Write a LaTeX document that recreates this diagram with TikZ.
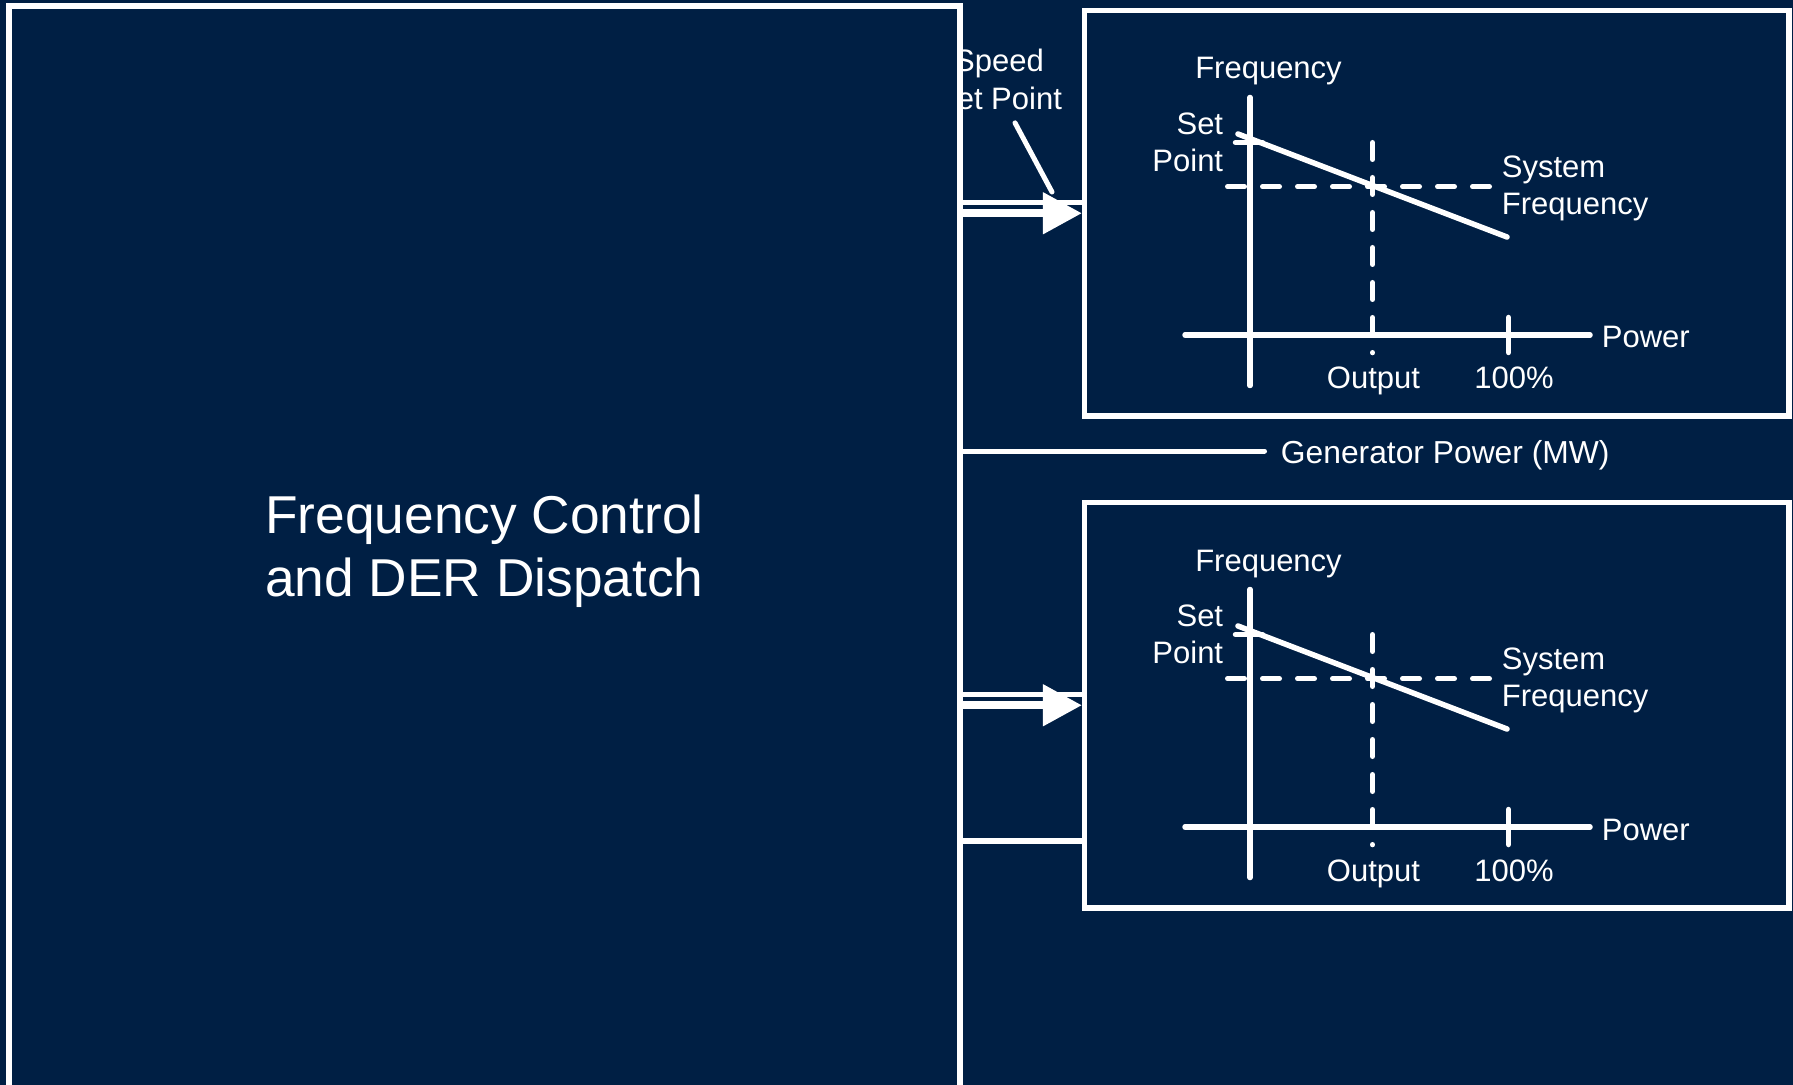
\documentclass[tikz,border=0pt]{standalone}
\usepackage{fontspec}
\setmainfont{Liberation Sans}
\usetikzlibrary{arrows.meta}
\definecolor{navy}{RGB}{0,31,68}

\begin{document}
\begin{tikzpicture}[x = 0.5pt, y = -0.5pt,
	panel/.style = {draw = white, line width = 2.6pt, fill = navy, inner sep = 0pt},
	lbl/.style = {text = white, inner sep = 0pt, font = \fontsize{15.5}{18.65}\selectfont},
	curve/.style = {white, line width = 2.75pt, line cap = round},
	guide/.style = {white, line width = 2.5pt, line cap = round, dash pattern = on 8.5pt off 9pt},
	link/.style = {white, line width = 2.5pt}]
	\useasboundingbox (0,0) rectangle (1793,1085);
	\clip (0,0) rectangle (1793,1085);
	\fill [navy] (0,0) rectangle (1793,1085);
	\node [lbl, align = center, anchor = north] (spd) at (999,49) {Speed\\Set Point};
	\node [panel, minimum width = 475.5pt, minimum height = 545.5pt, text = white, align = center,
		font = \fontsize{26.65}{31.65}\selectfont] (ctrl) at (484.5,551.5) {Frequency Control\\and DER Dispatch};
	\node [panel, minimum width = 352.25pt, minimum height = 202.75pt] (droopA) at (1436.75,213.25) {};
	\node [panel, minimum width = 352.25pt, minimum height = 202.75pt] (droopB) at (1436.75,705.25) {};
	\foreach \dy [count = \i] in {0,492} {
		\begin{scope}[shift = {(0,\dy)}]
		\draw [curve] (1250,97.5) -- (1250,385.5);
		\draw [curve] (1185,335) -- (1590,335);
		\draw [curve] (1508.5,317.5) -- (1508.5,352.5);
		\draw [curve] (1235.5,142.5) -- (1262.5,142.5);
		\draw [guide] (1227.5,186.7) -- (1489.5,186.7);
		\draw [guide] (1372.5,142.5) -- (1372.5,352.8);
		\draw [curve] (1238,134) -- (1507,237);
		\node [lbl, anchor = base] (freq\i) at (1268.5,79) {Frequency};
		\node [lbl, anchor = north east, align = right] (setpt\i) at (1223.5,112.5) {Set\\Point};
		\node [lbl, anchor = north west, align = left] (sysfreq\i) at (1501.5,155) {System\\Frequency};
		\node [lbl, anchor = base west] (power\i) at (1601.5,348) {Power};
		\node [lbl, anchor = base] (output\i) at (1373.5,389) {Output};
		\node [lbl, anchor = base] (full\i) at (1514,389) {100\%};
		\end{scope}
	}
	\coordinate (ctrlA) at (ctrl.east |- droopA.west);
	\coordinate (ctrlB) at (ctrl.east |- droopB.west);
	\draw [link] ([yshift = 5.25pt]ctrlA) -- ([yshift = 5.25pt]droopA.west);
	\draw [link, line width = 4pt, -{Triangle[length = 19.5pt, width = 20pt]}] (ctrlA) -- (droopA.west);
	\draw [link] ([yshift = 5.25pt]ctrlB) -- ([yshift = 5.25pt]droopB.west);
	\draw [link, line width = 4pt, -{Triangle[length = 19.5pt, width = 20pt]}] (ctrlB) -- (droopB.west);
	\draw [link, line width = 3pt] ([yshift = -68.1pt]ctrlB) -- ([yshift = -68.1pt]droopB.west);
	\coordinate (spdtip) at (1052,192);
	\draw [link, line cap = round] ([shift = {(16,13)}]spd.south) -- (spdtip);
	\node [lbl, anchor = west, inner xsep = 9.5pt, text height = 12pt, text depth = 0pt,
		font = \fontsize{15.9}{18.65}\selectfont] (genpw) at (1261.5,451) {Generator Power (MW)};
	\draw [link, line cap = round] (ctrl.east |- genpw.west) -- ([xshift = 1.5pt]genpw.west);
\end{tikzpicture}
\end{document}
